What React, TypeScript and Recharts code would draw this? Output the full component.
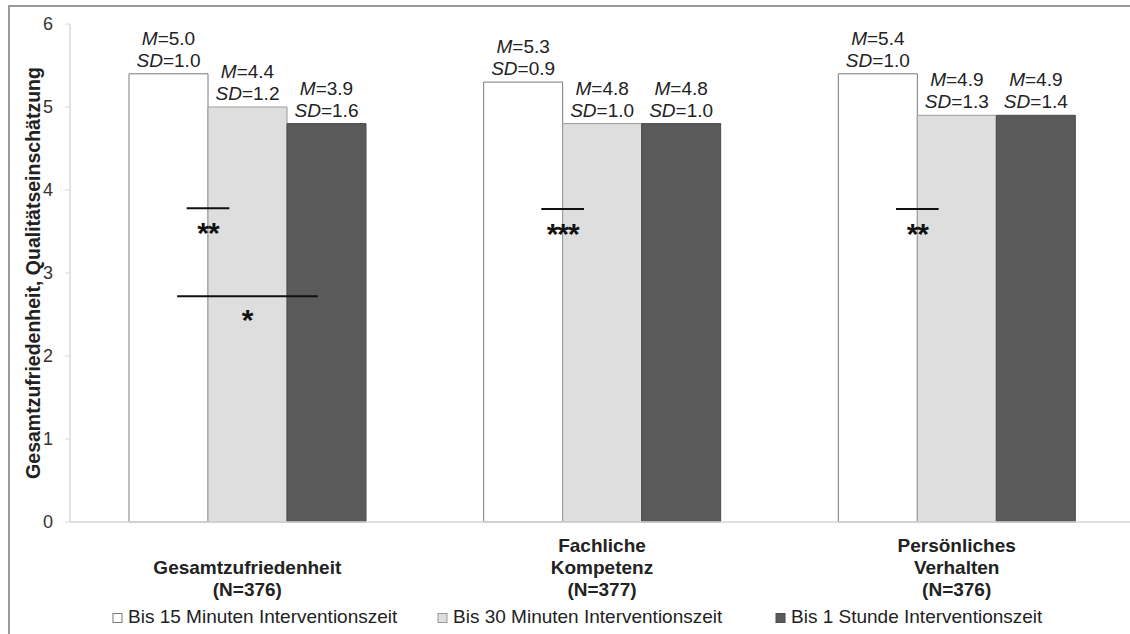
import React from 'react';
import { BarChart, Bar, XAxis, YAxis, LabelList, Legend } from 'recharts';

const categories = ['Gesamtzufriedenheit', 'Fachliche Kompetenz', 'Persönliches Verhalten'];
const categoryLines = [
  ['Gesamtzufriedenheit', '(N=376)'],
  ['Fachliche', 'Kompetenz', '(N=377)'],
  ['Persönliches', 'Verhalten', '(N=376)'],
];
const seriesNames = [
  'Bis 15 Minuten Interventionszeit',
  'Bis 30 Minuten Interventionszeit',
  'Bis 1 Stunde Interventionszeit',
];
const bar15 = [5.4, 5.3, 5.4];
const bar30 = [5.0, 4.8, 4.9];
const bar60 = [4.8, 4.8, 4.9];
const mean15 = ['5.0', '5.3', '5.4'];
const sd15 = ['1.0', '0.9', '1.0'];
const mean30 = ['4.4', '4.8', '4.9'];
const sd30 = ['1.2', '1.0', '1.3'];
const mean60 = ['3.9', '4.8', '4.9'];
const sd60 = ['1.6', '1.0', '1.4'];
const sigShortLevel = [3.78, 3.77, 3.77];
const sigShortStars = ['**', '***', '**'];
const sigLongLevel = [2.72, null, null];
const sigLongStars = ['*', '', ''];
const yTicks = [0, 1, 2, 3, 4, 5, 6];
const yTitle = 'Gesamtzufriedenheit, Qualitätseinschätzung';

const FONT = '"Liberation Sans", Arial, Helvetica, sans-serif';
const colors = ['#ffffff', '#dedede', '#5a5a5a'];
const strokes = ['#7a7a7a', '#9a9a9a', '#4a4a4a'];
const legendIconX = [113, 438, 776];

const data = categories.map((c, i) => ({ name: c, b15: bar15[i], b30: bar30[i], b60: bar60[i] }));

function getBox(props: any) {
  const vb = props.viewBox && props.viewBox.width !== undefined ? props.viewBox : props;
  return { x: Number(vb.x), y: Number(vb.y), width: Number(vb.width), height: Number(vb.height) };
}

const makeMsdLabel = (means: string[], sds: string[]) => (props: any) => {
  const { x, y, width } = getBox(props);
  const idx = props.index;
  const cx = x + width / 2;
  return (
    <g fontFamily={FONT} fontSize={19} fill="#222">
      <text x={cx} y={y - 29} textAnchor="middle">
        <tspan fontStyle="italic">M</tspan>
        <tspan>={means[idx]}</tspan>
      </text>
      <text x={cx} y={y - 7} textAnchor="middle">
        <tspan fontStyle="italic">SD</tspan>
        <tspan>={sds[idx]}</tspan>
      </text>
    </g>
  );
};

const sigContent = (props: any) => {
  const { x, y, width, height } = getBox(props);
  const idx = props.index;
  const val = bar60[idx];
  const bottom = y + height;
  const ppu = height / val;
  const whiteX = x - 2 * width;
  const boundary = whiteX + width;
  const shortY = bottom - sigShortLevel[idx] * ppu;
  const els: any[] = [];
  els.push(
    <line key="s" x1={boundary - 0.27 * width} x2={boundary + 0.27 * width} y1={shortY} y2={shortY} stroke="#111" strokeWidth={2} />
  );
  els.push(
    <text key="st" x={boundary} y={shortY + 35} textAnchor="middle" fontFamily={FONT} fontWeight="bold" fontSize={30} letterSpacing={-1} fill="#111">
      {sigShortStars[idx]}
    </text>
  );
  const ll = sigLongLevel[idx];
  if (ll !== null && ll !== undefined) {
    const ly = bottom - ll * ppu;
    const c = whiteX + 1.5 * width;
    els.push(<line key="l" x1={c - 0.89 * width} x2={c + 0.89 * width} y1={ly} y2={ly} stroke="#111" strokeWidth={2} />);
    els.push(
      <text key="lt" x={c} y={ly + 34} textAnchor="middle" fontFamily={FONT} fontWeight="bold" fontSize={30} fill="#111">
        {sigLongStars[idx]}
      </text>
    );
  }
  return <g>{els}</g>;
};

const XTick = (props: any) => {
  const { x, y, payload } = props;
  const idx = payload && payload.index !== undefined ? payload.index : props.index;
  const lines = categoryLines[idx] || [];
  const n = lines.length;
  return (
    <g fontFamily={FONT} fontSize={19} fontWeight="bold" fill="#222">
      {lines.map((l, i) => (
        <text key={i} x={x} y={y + 74 - (n - 1 - i) * 22} textAnchor="middle">
          {l}
        </text>
      ))}
    </g>
  );
};

const YTitle = (props: any) => {
  const vb = props.viewBox || { x: 0, y: 24, width: 70, height: 498 };
  const cx = vb.x + 33;
  const cy = vb.y + vb.height / 2;
  return (
    <text
      transform={`translate(${cx}, ${cy}) rotate(-90)`}
      textAnchor="middle"
      dominantBaseline="central"
      fontFamily={FONT}
      fontSize={19.5}
      fontWeight="bold"
      fill="#222"
    >
      {yTitle}
    </text>
  );
};

const LegendContent = () => (
  <svg width={1130} height={34} style={{ display: 'block' }}>
    {seriesNames.map((name, i) => (
      <g key={name}>
        <rect x={legendIconX[i]} y={13.5} width={9} height={9} fill={colors[i]} stroke={strokes[i]} strokeWidth={1} />
        <text x={legendIconX[i] + 15} y={23} fontFamily={FONT} fontSize={19} fill="#222">
          {name}
        </text>
      </g>
    ))}
  </svg>
);

export default function App() {
  return (
    <div style={{ position: 'relative', width: 1130, height: 634, background: '#fff', overflow: 'hidden' }}>
      <style>{`html,body{margin:0;padding:0;overflow:hidden;background:#fff}`}</style>
      <div
        style={{
          position: 'absolute',
          left: 8,
          top: 5,
          width: 1140,
          height: 640,
          border: '2px solid #9a9a9a',
          boxSizing: 'border-box',
        }}
      />
      <div style={{ position: 'absolute', left: 0, top: 0 }}>
        <BarChart
          width={1130}
          height={634}
          data={data}
          margin={{ top: 24, right: -4, left: 0, bottom: 18 }}
          barCategoryGap="16.6%"
          barGap={0}
        >
          <XAxis
            dataKey="name"
            height={60}
            tickLine={false}
            tickSize={0}
            tickMargin={0}
            axisLine={{ stroke: '#d6d6d6', strokeWidth: 1.5 }}
            tick={<XTick />}
            interval={0}
          />
          <YAxis
            width={70}
            domain={[0, 6]}
            ticks={yTicks}
            interval={0}
            axisLine={{ stroke: '#dadada', strokeWidth: 1.5 }}
            tickLine={{ stroke: '#dadada' }}
            tickSize={5}
            tickMargin={12}
            tick={{ fill: '#333', fontSize: 18, fontFamily: FONT }}
            label={<YTitle />}
          />
          <Legend
            verticalAlign="bottom"
            content={<LegendContent />}
            wrapperStyle={{ position: 'absolute', left: 0, top: 600, bottom: 'auto', width: 1130, height: 34 }}
          />
          <Bar dataKey="b15" name={seriesNames[0]} barSize={79} fill={colors[0]} stroke={strokes[0]} strokeWidth={1} isAnimationActive={false}>
            <LabelList dataKey="b15" content={makeMsdLabel(mean15, sd15)} />
          </Bar>
          <Bar dataKey="b30" name={seriesNames[1]} barSize={79} fill={colors[1]} stroke={strokes[1]} strokeWidth={1} isAnimationActive={false}>
            <LabelList dataKey="b30" content={makeMsdLabel(mean30, sd30)} />
          </Bar>
          <Bar dataKey="b60" name={seriesNames[2]} barSize={79} fill={colors[2]} stroke={strokes[2]} strokeWidth={1} isAnimationActive={false}>
            <LabelList dataKey="b60" content={makeMsdLabel(mean60, sd60)} />
            <LabelList dataKey="b60" content={sigContent} />
          </Bar>
        </BarChart>
      </div>
    </div>
  );
}
